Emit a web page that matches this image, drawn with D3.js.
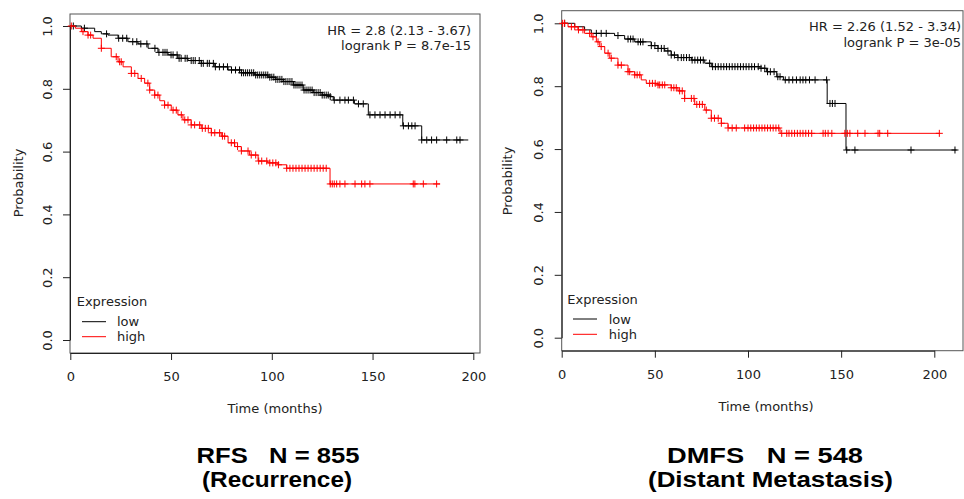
<!DOCTYPE html>
<html>
<head>
<meta charset="utf-8">
<script src="https://cdn.jsdelivr.net/npm/d3@7"></script>
<style>
  body { margin: 0; background: #fff; }
  svg { display: block; font-family: "DejaVu Sans", sans-serif; }
  .caption { font-family: "Liberation Sans", Arial, sans-serif; font-weight: bold; white-space: pre; }
</style>
</head>
<body>
<svg id="chart" width="964" height="499"></svg>
<script>
// axis ticks shared by both panels
const xTicks = [0, 50, 100, 150, 200];
const yTicks = [0, 0.2, 0.4, 0.6, 0.8, 1.0];
const groups = ["low", "high"];

// RFS: survival steps [months, probability]
const rfsLow = [[0,1],[5.5,0.993],[12.1,0.982],[15.4,0.975],[18.7,0.971],[23.7,0.961],[28.6,0.950],[33.6,0.943],[38.6,0.929],[43.5,0.916],[48.5,0.908],[53.4,0.897],[58.4,0.890],[65,0.881],[71.7,0.870],[78.3,0.860],[84.9,0.851],[91.5,0.844],[98.1,0.837],[102,0.830],[105.7,0.823],[110.7,0.812],[115.6,0.796],[120.6,0.788],[125,0.780],[128.9,0.775],[130.5,0.764],[141,0.752],[147.9,0.717],[165,0.682],[174.4,0.637],[197.5,0.637]];
const rfsHigh = [[0,1],[2.5,0.993],[5.5,0.982],[8.8,0.971],[11.3,0.961],[15.4,0.929],[20.3,0.902],[23.7,0.886],[26.2,0.870],[30.3,0.849],[33.6,0.833],[36.9,0.818],[39.4,0.796],[41.9,0.780],[44.4,0.762],[46.8,0.748],[50.1,0.732],[53.4,0.717],[55.9,0.701],[60,0.685],[65,0.674],[70,0.660],[74.9,0.649],[78.3,0.628],[81.6,0.616],[84.9,0.602],[89,0.589],[93.2,0.570],[98,0.564],[103,0.558],[107.4,0.547],[128.9,0.497],[183.5,0.497]];
// censoring times (months)
const rfsLowCens = [1.5,7,18,24,26,28,31,33,35,38,42,44,46,47,48,50,51,53,54,55,57,58,60,61,62,64,65,66,68,69,71,72,74,76,78,80,82,84,85,86,87,88,89,90,91,92,93,94,95,96,97,98,99,100,101,102,103,104,105,106,107,108,109,110,111,112,113,114,115,116,117,118,119,120,121,122,123,124,125,126,127,128,129,131,133.8,136.3,138,140.5,143,145.4,148.7,151.2,153.7,156.2,158.7,161.2,163.6,165.3,167.8,169.5,171.1,174.4,176.9,179.3,181.8,186.8,191.8,193.4];
const rfsHighCens = [0.5,6.3,8.8,10.1,15.4,22.8,24.5,25.3,30.3,32,35.2,38.5,39.4,41.9,43.5,46.8,48.5,51,52.6,55.1,56.8,58.4,60,61.7,64.2,65.5,67,68.5,70,71.7,74.1,75.5,76.6,79.9,81.5,83,84.9,88.2,89.8,92,93.5,95,97.5,99,100.5,102,103.3,107.4,109,110.5,112,113.5,115,116.5,118,119.5,121,122.5,124,125.5,127,129,130,131,132.2,133.8,136.3,141.3,144.6,146.2,148.7,170.2,171,175.2,181.8];

// DMFS
const dmfsLow = [[0,1],[7,0.989],[12.3,0.979],[15.9,0.968],[28.4,0.961],[33.8,0.950],[39.2,0.941],[48.1,0.929],[51.7,0.920],[55.3,0.912],[58.8,0.899],[62.4,0.891],[69.6,0.883],[76.8,0.873],[80.3,0.862],[106.4,0.857],[110,0.846],[115.4,0.830],[119,0.820],[142.5,0.745],[152.6,0.597],[212,0.597]];
const dmfsHigh = [[0,1],[3.4,0.989],[8.7,0.979],[12.3,0.968],[15.9,0.957],[18.6,0.941],[20.4,0.926],[23.1,0.905],[25.8,0.889],[30.2,0.867],[35.6,0.846],[39.2,0.836],[42.7,0.820],[45.4,0.809],[51.7,0.804],[58.8,0.795],[62.4,0.785],[66,0.761],[71.4,0.742],[76.8,0.724],[80.3,0.698],[85.7,0.682],[89.3,0.667],[117.2,0.650],[203,0.650]];
const dmfsLowCens = [1.6,18.6,21.2,23.9,30.2,35.6,37,38.3,41,42.3,43.6,48.1,50,51.7,53.5,55,57,58.8,60.5,62.4,64.2,65.5,67,68.5,70,71.5,73,74.5,76,79.4,81,82.5,84,85.5,87,88.5,90,91.5,93,94.5,96,97.5,99,100.5,102,103.5,105.5,107,109,110.5,112,114,116,117.2,120,122,124,126,128,129.5,131,133,136,142.2,144,145.3,146.7,153,157.4,187.5,211.1];
const dmfsHighCens = [0.5,1.5,5.2,7,9,11.4,15,16.8,19.5,21.2,24.9,26.6,30.2,32,35.6,36.5,39.2,40.5,41.9,47.2,48.7,50.2,51.7,52.6,54,55.3,58.8,60.2,61.5,63.3,64.7,66,69.6,71,72.5,74,75.5,77.6,80.3,82,84,85.7,89.3,91.5,93.7,98.2,100,101.5,103,104.5,106,107.5,109,110.5,112,113.5,115,116.5,118.1,120.8,122,123.5,125,126.5,128,129.5,131,132.5,134.2,140.3,141.5,143,145,152,153.3,154.7,158.9,162.8,169.8,170.7,175,202.7];

const colors = { low: "#000000", high: "#ff0000" };

const svg = d3.select("#chart");

const panels = [
  {
    series: { low: rfsLow, high: rfsHigh },
    cens: { low: rfsLowCens, high: rfsHighCens },
    hr: ["HR = 2.8 (2.13 - 3.67)", "logrank P = 8.7e-15"],
    caption: ["RFS   N = 855", "(Recurrence)"],
    xr: [70.3, 473.3], yr: [340, 26], box: [70, 14, 480, 353],
    yLabX: 47, yTitle: [18, 183], xLabY: 376.7, xTitle: [275, 408],
    hrPos: [471, 30.7, 45.7],
    leg: { x: 76.7, y: 301.7, l1: 82, l2: 106, tx: 117, rows: [321.7, 336.7] },
    cap: { x: [278, 277], y: [463, 487], w: [163, 150] }
  },
  {
    series: { low: dmfsLow, high: dmfsHigh },
    cens: { low: dmfsLowCens, high: dmfsHighCens },
    hr: ["HR = 2.26 (1.52 - 3.34)", "logrank P = 3e-05"],
    caption: ["DMFS   N = 548", "(Distant Metastasis)"],
    xr: [561.7, 934.3], yr: [337.7, 23.3], box: [561.7, 10.7, 963, 350.7],
    yLabX: 538.3, yTitle: [507, 181], xLabY: 374.3, xTitle: [766, 406],
    hrPos: [961, 26.7, 42.7],
    leg: { x: 567.3, y: 299, l1: 573, l2: 597, tx: 608.7, rows: [319, 334.3] },
    cap: { x: [765, 770.5], y: [463, 487], w: [196, 245] }
  }
];

function stepAt(steps, t) {
  let s = steps[0][1];
  for (const d of steps) { if (d[0] <= t) s = d[1]; else break; }
  return s;
}

function drawPanel(p) {
  const x = d3.scaleLinear().domain([0, 200]).range(p.xr);
  const y = d3.scaleLinear().domain([0, 1]).range(p.yr);
  const g = svg.append("g");

  g.append("rect")
    .attr("x", p.box[0]).attr("y", p.box[1])
    .attr("width", p.box[2] - p.box[0]).attr("height", p.box[3] - p.box[1])
    .attr("fill", "none").attr("stroke", "#555").attr("stroke-width", 1);

  // x axis
  const xa = g.append("g")
    .attr("transform", `translate(0,${p.box[3]})`)
    .call(d3.axisBottom(x).tickValues(xTicks).tickSize(7).tickSizeOuter(0));
  xa.selectAll(".tick text")
    .attr("y", p.xLabY - p.box[3]).attr("dy", "0.35em")
    .attr("font-size", 13).attr("font-family", "DejaVu Sans").attr("fill", "#222");

  // y axis, labels turned like R's default
  const ya = g.append("g")
    .attr("transform", `translate(${p.box[0]},0)`)
    .call(d3.axisLeft(y).tickValues(yTicks).tickSize(7).tickSizeOuter(0).tickFormat(d3.format(".1f")));
  ya.selectAll(".tick text")
    .attr("x", null).attr("dy", "0.35em")
    .attr("text-anchor", "middle")
    .attr("transform", `translate(${p.yLabX - p.box[0]},0) rotate(-90)`)
    .attr("font-size", 13).attr("font-family", "DejaVu Sans").attr("fill", "#222");
  g.selectAll(".domain, .tick line").attr("stroke", "#222");

  g.append("text")
    .attr("transform", `translate(${p.yTitle[0]},${p.yTitle[1]}) rotate(-90)`)
    .attr("text-anchor", "middle").attr("dy", "0.35em")
    .attr("font-size", 13).attr("fill", "#222")
    .text("Probability");

  g.append("text")
    .attr("x", p.xTitle[0]).attr("y", p.xTitle[1]).attr("dy", "0.35em")
    .attr("text-anchor", "middle").attr("font-size", 13).attr("fill", "#222")
    .text("Time (months)");

  // curves + censor marks
  const line = d3.line().x(d => x(d[0])).y(d => y(d[1])).curve(d3.curveStepAfter);
  groups.forEach(k => {
    g.append("path").datum(p.series[k])
      .attr("d", line).attr("fill", "none")
      .attr("stroke", colors[k]).attr("stroke-width", 1);
    g.append("g").selectAll("path")
      .data(p.cens[k])
      .join("path")
      .attr("transform", t => `translate(${x(t)},${y(stepAt(p.series[k], t))})`)
      .attr("d", "M-3.5,0H3.5M0,-3.5V3.5")
      .attr("stroke", colors[k]).attr("stroke-width", 1).attr("fill", "none");
  });

  // HR text
  g.selectAll("text.hr")
    .data(p.hr)
    .join("text")
    .attr("class", "hr")
    .attr("x", p.hrPos[0]).attr("y", (d, i) => p.hrPos[i + 1]).attr("dy", "0.35em")
    .attr("text-anchor", "end").attr("font-size", 13).attr("fill", "#222")
    .text(d => d);

  // legend
  g.append("text")
    .attr("x", p.leg.x).attr("y", p.leg.y).attr("dy", "0.35em")
    .attr("font-size", 13).attr("fill", "#222").text("Expression");
  groups.forEach((k, i) => {
    g.append("line")
      .attr("x1", p.leg.l1).attr("x2", p.leg.l2)
      .attr("y1", p.leg.rows[i]).attr("y2", p.leg.rows[i])
      .attr("stroke", colors[k]).attr("stroke-width", 1);
    g.append("text")
      .attr("x", p.leg.tx).attr("y", p.leg.rows[i]).attr("dy", "0.35em")
      .attr("font-size", 13).attr("fill", "#222").text(k);
  });

  // caption under the panel
  g.selectAll("text.caption")
    .data(p.caption)
    .join("text")
    .attr("class", "caption")
    .attr("x", (d, i) => p.cap.x[i]).attr("y", (d, i) => p.cap.y[i])
    .attr("text-anchor", "middle").attr("font-size", 22).attr("fill", "#000")
    .attr("textLength", (d, i) => p.cap.w[i]).attr("lengthAdjust", "spacingAndGlyphs")
    .text(d => d);
}

panels.forEach(drawPanel);
</script>
</body>
</html>
